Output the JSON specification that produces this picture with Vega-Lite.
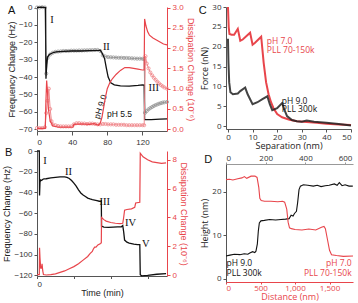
{
"$schema": "https://vega.github.io/schema/vega-lite/v6.json",
"padding": {"left": 2, "top": 3, "right": 2, "bottom": 1},
"datasets": {
"a9f": [{"t":0,"v":0},{"t":5,"v":0.2},{"t":9.8,"v":0},{"t":10.2,"v":-41},{"t":11,"v":-33},{"t":12,"v":-28.5},{"t":14,"v":-27},{"t":18,"v":-26},{"t":22,"v":-25.5},{"t":30,"v":-25.2},{"t":40,"v":-25},{"t":50,"v":-25},{"t":60,"v":-24.8},{"t":70,"v":-24.6},{"t":72,"v":-24.5},{"t":74,"v":-26},{"t":77,"v":-29.5},{"t":79,"v":-35},{"t":81,"v":-40},{"t":84,"v":-43.3},{"t":88,"v":-44.5},{"t":95,"v":-45},{"t":105,"v":-45.2},{"t":115,"v":-44.8},{"t":120,"v":-44.5},{"t":122,"v":-44.6},{"t":122.5,"v":-64.5},{"t":130,"v":-64.5},{"t":140,"v":-64.2},{"t":148,"v":-64}],
"a55f": [{"t":0,"v":0},{"t":3,"v":0},{"t":6,"v":0.2},{"t":9,"v":0},{"t":10.5,"v":-38},{"t":12,"v":-29},{"t":15,"v":-27},{"t":18,"v":-26},{"t":21,"v":-25.5},{"t":24,"v":-25.3},{"t":27,"v":-25.2},{"t":30,"v":-25},{"t":33,"v":-25},{"t":36,"v":-25},{"t":39,"v":-24.8},{"t":42,"v":-24.8},{"t":45,"v":-24.8},{"t":48,"v":-24.7},{"t":51,"v":-24.7},{"t":54,"v":-24.6},{"t":57,"v":-24.6},{"t":60,"v":-24.5},{"t":63,"v":-24.5},{"t":66,"v":-24.4},{"t":69,"v":-24.4},{"t":72,"v":-25},{"t":75,"v":-27.5},{"t":78,"v":-28.2},{"t":81,"v":-28.5},{"t":84,"v":-28.6},{"t":87,"v":-28.7},{"t":90,"v":-28.8},{"t":93,"v":-28.9},{"t":96,"v":-28.9},{"t":99,"v":-29},{"t":102,"v":-29},{"t":105,"v":-29.1},{"t":108,"v":-29.2},{"t":111,"v":-29.3},{"t":114,"v":-29.4},{"t":117,"v":-29.4},{"t":120,"v":-29.5},{"t":122,"v":-29.6},{"t":123,"v":-60.5},{"t":125,"v":-59.5},{"t":127,"v":-58.5},{"t":129,"v":-57.8},{"t":131,"v":-57.2},{"t":133,"v":-56.6},{"t":135,"v":-56.1},{"t":137,"v":-55.7},{"t":139,"v":-55.3},{"t":141,"v":-55},{"t":143,"v":-54.7},{"t":145,"v":-54.5},{"t":148,"v":-54.3}],
"a9d": [{"t":0,"v":0.02},{"t":9.5,"v":0.02},{"t":10,"v":0.6},{"t":11,"v":1.2},{"t":12,"v":0.9},{"t":13,"v":0.5},{"t":15,"v":0.2},{"t":18,"v":0.08},{"t":25,"v":0.05},{"t":35,"v":0.05},{"t":41,"v":0.05},{"t":42,"v":0.12},{"t":50,"v":0.13},{"t":60,"v":0.12},{"t":65,"v":0.14},{"t":70,"v":0.1},{"t":72,"v":0.15},{"t":74,"v":0.3},{"t":76,"v":0.55},{"t":78,"v":0.8},{"t":80,"v":1.0},{"t":83,"v":1.15},{"t":86,"v":1.25},{"t":90,"v":1.35},{"t":95,"v":1.45},{"t":100,"v":1.52},{"t":105,"v":1.52},{"t":110,"v":1.5},{"t":115,"v":1.48},{"t":120,"v":1.46},{"t":122,"v":1.46},{"t":122.5,"v":2.72},{"t":124,"v":2.55},{"t":126,"v":2.4},{"t":128,"v":2.32},{"t":132,"v":2.25},{"t":136,"v":2.2},{"t":140,"v":2.15},{"t":144,"v":2.1},{"t":148,"v":2.08}],
"a55d": [{"t":0,"v":0.03},{"t":3,"v":0.03},{"t":6,"v":0.03},{"t":9,"v":0.05},{"t":10.5,"v":0.4},{"t":12,"v":0.7},{"t":13.5,"v":1.0},{"t":15,"v":0.5},{"t":16.5,"v":0.2},{"t":18,"v":0.12},{"t":21,"v":0.1},{"t":24,"v":0.08},{"t":27,"v":0.07},{"t":30,"v":0.07},{"t":33,"v":0.07},{"t":36,"v":0.07},{"t":39,"v":0.07},{"t":42,"v":0.12},{"t":45,"v":0.15},{"t":48,"v":0.15},{"t":51,"v":0.14},{"t":54,"v":0.14},{"t":57,"v":0.13},{"t":60,"v":0.14},{"t":63,"v":0.14},{"t":66,"v":0.13},{"t":69,"v":0.12},{"t":72,"v":0.12},{"t":75,"v":0.13},{"t":78,"v":0.13},{"t":81,"v":0.12},{"t":84,"v":0.12},{"t":87,"v":0.12},{"t":90,"v":0.11},{"t":93,"v":0.11},{"t":96,"v":0.11},{"t":99,"v":0.11},{"t":102,"v":0.1},{"t":105,"v":0.1},{"t":108,"v":0.1},{"t":111,"v":0.1},{"t":114,"v":0.1},{"t":117,"v":0.1},{"t":120,"v":0.1},{"t":122,"v":0.1},{"t":123.5,"v":1.8},{"t":125,"v":1.62},{"t":127,"v":1.5},{"t":129,"v":1.4},{"t":131,"v":1.33},{"t":133,"v":1.27},{"t":135,"v":1.22},{"t":137,"v":1.17},{"t":139,"v":1.13},{"t":141,"v":1.09},{"t":143,"v":1.06},{"t":145,"v":1.03},{"t":148,"v":1.0}],
"aroman": [{"t":15,"v":-7,"label":"I"},{"t":75,"v":-22.5,"label":"II"},{"t":127,"v":-46.5,"label":"III"}],
"aph9": [{"t":72,"v":-57,"label":"pH 9.0"}],
"aph55": [{"t":94,"v":-61.5,"label":"pH 5.5"}],
"aletter": [{"t":-28.8,"v":-2.1,"label":"A"}],
"bf": [{"t":0,"v":0},{"t":5,"v":0},{"t":5.5,"v":-43},{"t":6.5,"v":-30},{"t":8,"v":-28},{"t":10,"v":-28.5},{"t":12,"v":-27.5},{"t":15,"v":-27},{"t":20,"v":-26.8},{"t":30,"v":-26},{"t":40,"v":-25.5},{"t":50,"v":-25},{"t":60,"v":-25},{"t":65,"v":-25.5},{"t":70,"v":-26.5},{"t":75,"v":-28.5},{"t":80,"v":-31},{"t":85,"v":-34},{"t":90,"v":-37.5},{"t":95,"v":-40.5},{"t":100,"v":-42.5},{"t":105,"v":-44},{"t":110,"v":-45.5},{"t":115,"v":-46.3},{"t":120,"v":-47},{"t":125,"v":-47.5},{"t":130,"v":-48},{"t":135,"v":-48.5},{"t":138,"v":-48.5},{"t":139.5,"v":-48},{"t":140,"v":-72.5},{"t":145,"v":-73.5},{"t":155,"v":-73.8},{"t":165,"v":-73.5},{"t":175,"v":-73.3},{"t":183,"v":-73.2},{"t":186,"v":-72},{"t":188,"v":-78},{"t":190,"v":-86},{"t":195,"v":-88},{"t":200,"v":-89},{"t":210,"v":-90},{"t":218,"v":-90.5},{"t":223,"v":-90.5},{"t":224,"v":-119.5},{"t":227,"v":-120.5},{"t":240,"v":-120},{"t":260,"v":-119},{"t":280,"v":-118.5}],
"bd": [{"t":0,"v":0.05},{"t":5,"v":0.05},{"t":5.5,"v":1.9},{"t":6.5,"v":1.2},{"t":8,"v":0.5},{"t":10,"v":0.5},{"t":11,"v":0.8},{"t":12.5,"v":0.3},{"t":14,"v":0.05},{"t":20,"v":0.02},{"t":30,"v":0.05},{"t":40,"v":0.1},{"t":50,"v":0.2},{"t":60,"v":0.3},{"t":70,"v":0.45},{"t":80,"v":0.6},{"t":90,"v":0.8},{"t":100,"v":1.05},{"t":110,"v":1.3},{"t":115,"v":1.5},{"t":120,"v":1.65},{"t":122,"v":1.8},{"t":125,"v":1.95},{"t":128,"v":1.95},{"t":132,"v":2.1},{"t":138,"v":2.2},{"t":139.5,"v":2.25},{"t":140,"v":4.0},{"t":145,"v":3.85},{"t":150,"v":3.75},{"t":160,"v":3.65},{"t":170,"v":3.6},{"t":180,"v":3.58},{"t":186,"v":3.6},{"t":188,"v":4.0},{"t":190,"v":4.5},{"t":195,"v":4.55},{"t":205,"v":4.6},{"t":212,"v":4.7},{"t":214,"v":5.0},{"t":223,"v":5.05},{"t":224,"v":8.45},{"t":230,"v":8.2},{"t":240,"v":8.0},{"t":250,"v":7.85},{"t":260,"v":7.8},{"t":270,"v":7.75},{"t":280,"v":7.78}],
"broman": [{"t":17.5,"v":-10,"label":"I"},{"t":68.5,"v":-20.5,"label":"II"},{"t":147,"v":-48.8,"label":"III"},{"t":203,"v":-69.5,"label":"IV"},{"t":236,"v":-89.5,"label":"V"}],
"bletter": [{"t":-61.4,"v":-1.5,"label":"B"}],
"cr": [{"x":0,"f":30},{"x":0.3,"f":25},{"x":0.6,"f":23.2},{"x":1.5,"f":23},{"x":2.5,"f":23},{"x":4,"f":24.5},{"x":5,"f":21.5},{"x":6,"f":21.8},{"x":9,"f":23.5},{"x":10,"f":20.5},{"x":11,"f":21},{"x":13.5,"f":22.5},{"x":14.5,"f":16},{"x":15.5,"f":11},{"x":16.5,"f":8},{"x":17.5,"f":6},{"x":18.5,"f":4.5},{"x":20,"f":3},{"x":22,"f":2.2},{"x":25,"f":1.6},{"x":28,"f":1.2},{"x":32,"f":1.0},{"x":36,"f":0.8},{"x":40,"f":0.6},{"x":45,"f":0.4},{"x":50,"f":0.25}],
"cb": [{"x":0,"f":22},{"x":0.2,"f":16},{"x":0.5,"f":11},{"x":1,"f":8.5},{"x":2,"f":8},{"x":4,"f":8.2},{"x":5,"f":8.8},{"x":7,"f":9.7},{"x":8,"f":8},{"x":10,"f":5.5},{"x":12,"f":6},{"x":14,"f":6.8},{"x":16,"f":7.5},{"x":17,"f":5.5},{"x":18,"f":4},{"x":20,"f":4.5},{"x":22,"f":5.8},{"x":23,"f":4},{"x":24,"f":2.5},{"x":26,"f":1.5},{"x":28,"f":1.2},{"x":30,"f":1.1},{"x":32,"f":1.4},{"x":35,"f":1.1},{"x":40,"f":0.8},{"x":45,"f":0.5},{"x":50,"f":0.15}],
"ctr": [{"x":15.8,"f":21.5,"label":"pH 7.0"},{"x":15.8,"f":19.2,"label":"PLL 70-150k"}],
"ctb": [{"x":21.9,"f":6.4,"label":"pH 9.0"},{"x":21.9,"f":4.3,"label":"PLL 300k"}],
"cletter": [{"x":-10.3,"f":28.9,"label":"C"}],
"db": [{"x":0,"h":5.2},{"x":20,"h":5.4},{"x":42,"h":5.6},{"x":70,"h":5.5},{"x":92,"h":5.7},{"x":110,"h":5.6},{"x":120,"h":5.9},{"x":134,"h":6.2},{"x":145,"h":6.0},{"x":151,"h":6.3},{"x":158,"h":8},{"x":163,"h":11},{"x":168,"h":12.8},{"x":176,"h":13.3},{"x":193,"h":13.4},{"x":220,"h":13.6},{"x":250,"h":13.5},{"x":277,"h":13.6},{"x":300,"h":13.7},{"x":318,"h":13.8},{"x":328,"h":14.6},{"x":338,"h":14.4},{"x":345,"h":15},{"x":355,"h":15.5},{"x":361,"h":17.5},{"x":368,"h":20.5},{"x":375,"h":21.3},{"x":390,"h":21.6},{"x":412,"h":21.5},{"x":440,"h":21.3},{"x":460,"h":21.5},{"x":479,"h":21.2},{"x":500,"h":21.4},{"x":520,"h":21.5},{"x":546,"h":21.8},{"x":560,"h":21.5},{"x":571,"h":22.1},{"x":585,"h":21.4},{"x":600,"h":21.6},{"x":620,"h":21.3},{"x":639,"h":21.3}],
"dr": [{"x":0,"h":22.8},{"x":50,"h":22.9},{"x":100,"h":22.7},{"x":170,"h":23.0},{"x":230,"h":23.2},{"x":267,"h":23.5},{"x":300,"h":23.1},{"x":364,"h":23.6},{"x":420,"h":23.6},{"x":450,"h":23.3},{"x":475,"h":21},{"x":490,"h":18.5},{"x":510,"h":18},{"x":558,"h":17.8},{"x":650,"h":17.8},{"x":750,"h":17.7},{"x":820,"h":17.8},{"x":850,"h":17.6},{"x":880,"h":16},{"x":900,"h":13},{"x":920,"h":11.7},{"x":947,"h":11.5},{"x":1000,"h":11.3},{"x":1100,"h":11.2},{"x":1200,"h":11.4},{"x":1300,"h":11.2},{"x":1383,"h":11.8},{"x":1420,"h":12.0},{"x":1440,"h":11.5},{"x":1470,"h":9},{"x":1500,"h":6.5},{"x":1529,"h":5.5},{"x":1600,"h":5.3},{"x":1700,"h":5.1},{"x":1840,"h":5.2}],
"dtb": [{"x":3,"h":3.5,"label":"pH 9.0"},{"x":3,"h":1.3,"label":"PLL 300k"}],
"dletter": [{"x":-89,"h":27.4,"label":"D"}],
"dtr": [{"x":1820,"h":3.5,"label":"pH 7.0"},{"x":1820,"h":1.3,"label":"PLL 70-150k"}]
},
"align": "each",
"hconcat": [
{"vconcat": [
{
"width": 130, "height": 124,
"layer": [
{"encoding": {
"x": {"field": "t", "type": "quantitative", "scale": {"domain": [0, 148], "nice": false, "zero": false}, "axis": {"values": [0, 20, 40, 60, 80, 100, 120, 140], "labelExpr": "datum.value % 40 === 0 ? datum.label : ''", "title": null, "labelPadding": 3, "tickSize": 4}},
"y": {"field": "v", "type": "quantitative", "scale": {"domain": [-71, 0.3], "nice": false, "zero": false}, "axis": {"values": [0, -10, -20, -30, -40, -50, -60, -70], "title": "Frequency Change (Hz)"}}
},
"layer": [
{"data": {"name": "a55f"}, "mark": {"type": "line", "color": "#8a8a8a", "strokeWidth": 1, "point": {"filled": false, "size": 10, "color": "#999", "strokeWidth": 0.8}}},
{"data": {"name": "a9f"}, "mark": {"type": "line", "color": "#111", "strokeWidth": 1.3}},
{"data": {"name": "aroman"}, "mark": {"type": "text", "font": "Liberation Serif", "fontSize": 10.5, "color": "#111", "align": "left"}, "encoding": {"text": {"field": "label"}}},
{"data": {"name": "aph9"}, "mark": {"type": "text", "fontSize": 8.5, "color": "#111", "angle": -72}, "encoding": {"text": {"field": "label"}}},
{"data": {"name": "aph55"}, "mark": {"type": "text", "fontSize": 8.5, "color": "#111"}, "encoding": {"text": {"field": "label"}}},
{"data": {"name": "aletter"}, "mark": {"type": "text", "fontSize": 11, "color": "#111"}, "encoding": {"text": {"field": "label"}}}
]},
{"encoding": {
"x": {"field": "t", "type": "quantitative"},
"y": {"field": "v", "type": "quantitative", "scale": {"domain": [-0.043, 3.013], "nice": false, "zero": false}, "axis": {"orient": "right", "values": [0, 0.5, 1, 1.5, 2, 2.5, 3], "format": ".1f", "title": "Dissipation Change (10⁻⁶)", "labelColor": "#e8454b", "domainColor": "#e8454b", "tickColor": "#e8454b", "titleColor": "#e8454b"}}
},
"layer": [
{"data": {"name": "a55d"}, "mark": {"type": "line", "color": "#f08a8e", "strokeWidth": 1, "point": {"filled": false, "size": 10, "color": "#f08a8e", "strokeWidth": 0.8}}},
{"data": {"name": "a9d"}, "mark": {"type": "line", "color": "#e8454b", "strokeWidth": 1.2}}
]}
],
"resolve": {"scale": {"y": "independent"}}
},
{
"width": 130, "height": 125,
"layer": [
{"encoding": {
"x": {"field": "t", "type": "quantitative", "scale": {"domain": [0, 282], "nice": false, "zero": false}, "axis": {"values": [0, 10, 20, 30, 40, 50, 60, 70, 80, 90, 100, 110, 120, 130, 140, 150, 160, 170, 180, 190, 200, 210, 220, 230, 240, 250, 260, 270, 280], "labelExpr": "datum.value % 100 === 0 ? datum.label : ''", "title": "Time (min)", "titlePadding": 0, "tickSize": 2.5}},
"y": {"field": "v", "type": "quantitative", "scale": {"domain": [-120.7, 0], "nice": false, "zero": false}, "axis": {"values": [0, -20, -40, -60, -80, -100, -120], "title": "Frequency Change (Hz)"}}
},
"layer": [
{"data": {"name": "bf"}, "mark": {"type": "line", "color": "#111", "strokeWidth": 1.3}},
{"data": {"name": "broman"}, "mark": {"type": "text", "font": "Liberation Serif", "fontSize": 10.5, "color": "#111"}, "encoding": {"text": {"field": "label"}}},
{"data": {"name": "bletter"}, "mark": {"type": "text", "fontSize": 11, "color": "#111"}, "encoding": {"text": {"field": "label"}}}
]},
{"encoding": {
"x": {"field": "t", "type": "quantitative"},
"y": {"field": "v", "type": "quantitative", "scale": {"domain": [-0.05, 8.6], "nice": false, "zero": false}, "axis": {"orient": "right", "values": [0, 2, 4, 6, 8], "title": "Dissipation Change (10⁻⁶)", "labelColor": "#e8454b", "domainColor": "#e8454b", "tickColor": "#e8454b", "titleColor": "#e8454b"}}
},
"layer": [
{"data": {"name": "bd"}, "mark": {"type": "line", "color": "#e8454b", "strokeWidth": 1.2}}
]}
],
"resolve": {"scale": {"y": "independent"}}
}
], "spacing": 0, "align": "each"},
{"vconcat": [
{
"width": 125, "height": 122,
"encoding": {
"x": {"field": "x", "type": "quantitative", "scale": {"domain": [-0.8, 50], "nice": false, "zero": false}, "axis": {"values": [0, 10, 20, 30, 40, 50], "title": "Separation (nm)", "labelFont": "Open Sans", "titleFont": "Open Sans", "labelPadding": 1, "titlePadding": 0}},
"y": {"field": "f", "type": "quantitative", "scale": {"domain": [-0.75, 30], "nice": false, "zero": false}, "axis": {"values": [0, 5, 10, 15, 20, 25, 30], "title": "Force (nN)", "labelFont": "Open Sans", "titleFont": "Open Sans"}}
},
"layer": [
{"data": {"name": "cr"}, "mark": {"type": "line", "color": "#e8454b", "strokeWidth": 2}},
{"data": {"name": "cb"}, "mark": {"type": "line", "color": "#222", "strokeWidth": 2, "opacity": 0.85}},
{"data": {"name": "ctr"}, "mark": {"type": "text", "font": "Open Sans", "fontSize": 8.5, "color": "#e8454b", "align": "left"}, "encoding": {"text": {"field": "label"}}},
{"data": {"name": "ctb"}, "mark": {"type": "text", "font": "Open Sans", "fontSize": 8.5, "color": "#111", "align": "left"}, "encoding": {"text": {"field": "label"}}},
{"data": {"name": "cletter"}, "mark": {"type": "text", "fontSize": 11, "color": "#111"}, "encoding": {"text": {"field": "label"}}}
]
},
{
"width": 127, "height": 118,
"layer": [
{"encoding": {
"x": {"field": "x", "type": "quantitative", "scale": {"domain": [0, 640], "nice": false, "zero": false}, "axis": {"orient": "top", "values": [0, 200, 400, 600], "title": null, "labelFont": "Open Sans", "domainColor": "#999", "tickColor": "#999", "tickSize": 2, "labelPadding": 0}},
"y": {"field": "h", "type": "quantitative", "scale": {"domain": [-0.8, 26.4], "nice": false, "zero": false}, "axis": {"values": [0, 5, 10, 15, 20, 25], "title": "Height (nm)", "labelFont": "Open Sans", "titleFont": "Open Sans"}}
},
"layer": [
{"data": {"name": "db"}, "mark": {"type": "line", "color": "#111", "strokeWidth": 1.1}},
{"data": {"name": "dtb"}, "mark": {"type": "text", "font": "Open Sans", "fontSize": 8.5, "color": "#111", "align": "left"}, "encoding": {"text": {"field": "label"}}},
{"data": {"name": "dletter"}, "mark": {"type": "text", "fontSize": 11, "color": "#111"}, "encoding": {"text": {"field": "label"}}}
]},
{"encoding": {
"x": {"field": "x", "type": "quantitative", "scale": {"domain": [0, 1840], "nice": false, "zero": false}, "axis": {"orient": "bottom", "values": [0, 500, 1000, 1500], "title": "Distance (nm)", "labelFont": "Open Sans", "titleFont": "Open Sans", "labelColor": "#e8454b", "domainColor": "#e8454b", "tickColor": "#e8454b", "titleColor": "#e8454b", "tickSize": 2, "labelPadding": 0, "titlePadding": 0}},
"y": {"field": "h", "type": "quantitative"}
},
"layer": [
{"data": {"name": "dr"}, "mark": {"type": "line", "color": "#e8454b", "strokeWidth": 1.1}},
{"data": {"name": "dtr"}, "mark": {"type": "text", "font": "Open Sans", "fontSize": 8.5, "color": "#e8454b", "align": "right"}, "encoding": {"text": {"field": "label"}}}
]}
],
"resolve": {"scale": {"x": "independent"}}
}
], "spacing": 3, "align": "each"}
],
"spacing": 3,
"config": {
"view": {"stroke": null},
"axis": {"grid": false, "labelFontSize": 8, "titleFontSize": 9, "labelFont": "Liberation Sans", "titleFont": "Liberation Sans", "titleFontWeight": "normal", "tickSize": 3, "domainColor": "#555", "tickColor": "#555", "labelColor": "#333", "titleColor": "#222", "labelPadding": 2, "titlePadding": 2},
"text": {"font": "Liberation Sans"}
}
}
